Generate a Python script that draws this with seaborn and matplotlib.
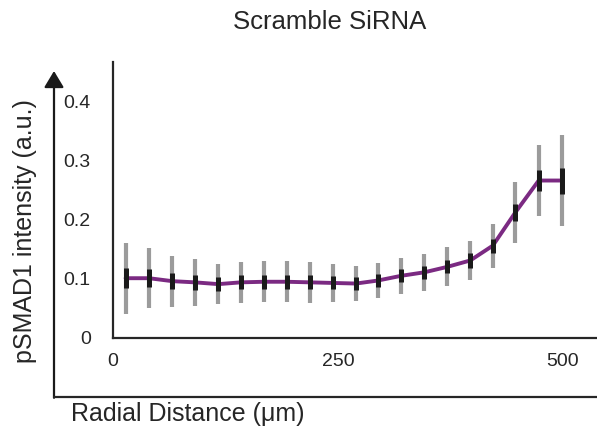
import numpy as np
import pandas as pd
import matplotlib
matplotlib.use("Agg")
import matplotlib.pyplot as plt
from matplotlib.lines import Line2D
import seaborn as sns

# ---- data ----
radial_distance = [14, 40, 66, 91, 117, 142, 168, 193, 219, 244,
                   270, 294, 320, 346, 371, 397, 422, 447, 473, 499]
mean_intensity = [0.101, 0.101, 0.096, 0.094, 0.091, 0.094, 0.095, 0.095, 0.094, 0.093,
                  0.092, 0.097, 0.105, 0.111, 0.120, 0.131, 0.156, 0.212, 0.266, 0.266]
sd_intensity = [0.060, 0.051, 0.043, 0.040, 0.034, 0.035, 0.035, 0.035, 0.035, 0.032,
                0.030, 0.029, 0.030, 0.031, 0.033, 0.033, 0.037, 0.052, 0.060, 0.077]
sem_intensity = [0.017, 0.015, 0.014, 0.013, 0.012, 0.012, 0.012, 0.012, 0.012, 0.011,
                 0.011, 0.011, 0.011, 0.011, 0.011, 0.012, 0.012, 0.015, 0.017, 0.022]
x_ticks = [0, 250, 500]
y_ticks = [0, 0.1, 0.2, 0.3, 0.4]
y_tick_labels = ["0", "0.1", "0.2", "0.3", "0.4"]
title = "Scramble SiRNA"
x_label = "Radial Distance (\u03bcm)"
y_label = "pSMAD1 intensity (a.u.)"

df = pd.DataFrame({"x": radial_distance, "y": mean_intensity,
                   "sd": sd_intensity, "sem": sem_intensity})

sns.set_theme(style="white")
plt.rcParams["font.family"] = ["Liberation Sans", "DejaVu Sans"]

W, H = 597, 437
fig = plt.figure(figsize=(W / 100, H / 100), dpi=100)
ax = fig.add_axes([113 / W, 1 - 338 / H, (W - 113) / W, (338 - 62) / H])

purple = "#7b2a82"
dark = "#262626"

# grey SD bars
ax.errorbar(df["x"], df["y"], yerr=df["sd"], fmt="none", ecolor="#9b9b9b",
            elinewidth=3.0, capsize=0, zorder=2)
# mean line
sns.lineplot(data=df, x="x", y="y", ax=ax, color=purple, linewidth=2.8,
             zorder=3, errorbar=None)
# black SEM bars
ax.errorbar(df["x"], df["y"], yerr=df["sem"], fmt="none", ecolor="#1a1a1a",
            elinewidth=3.6, capsize=0, zorder=4)

ax.set_xlim(0, (W - 113) / 0.9)
ax.set_ylim(0, (338 - 62) / 592.0)
ax.set_xticks(x_ticks)
ax.set_xticklabels([str(t) for t in x_ticks])
ax.set_yticks(y_ticks)
ax.set_yticklabels(y_tick_labels)
ax.set_xlabel("")
ax.set_ylabel("")
ax.tick_params(axis="both", length=0, labelsize=14, colors=dark)
ax.tick_params(axis="y", pad=16)
ax.tick_params(axis="x", pad=11)
for side in ["top", "right"]:
    ax.spines[side].set_visible(False)
for side in ["left", "bottom"]:
    ax.spines[side].set_color(dark)
    ax.spines[side].set_linewidth(1.6)
ax.set_facecolor("white")
ax.grid(False)

# outer frame: arrow up and horizontal baseline
fx = lambda px: px / W
fy = lambda py: 1 - py / H
fig.add_artist(Line2D([fx(54), fx(W)], [fy(397), fy(397)], color=dark,
                      linewidth=1.6, transform=fig.transFigure))
ax.annotate("", xy=(54, H - 71), xytext=(54, H - 397.8), xycoords="figure pixels",
            textcoords="figure pixels",
            arrowprops=dict(arrowstyle="-|>,head_length=0.5,head_width=0.3",
                            color="#1a1a1a", lw=1.6, mutation_scale=20,
                            shrinkA=0, shrinkB=0),
            annotation_clip=False)

fig.text(fx(330), fy(22), title, ha="center", va="center", fontsize=18.5, color=dark)
fig.text(fx(25), fy(231), y_label, ha="center", va="center", rotation=90,
         fontsize=18, color=dark)
fig.text(fx(71), fy(414), x_label, ha="left", va="center", fontsize=18, color=dark)

fig.savefig("out.png", dpi=100, facecolor="white")
